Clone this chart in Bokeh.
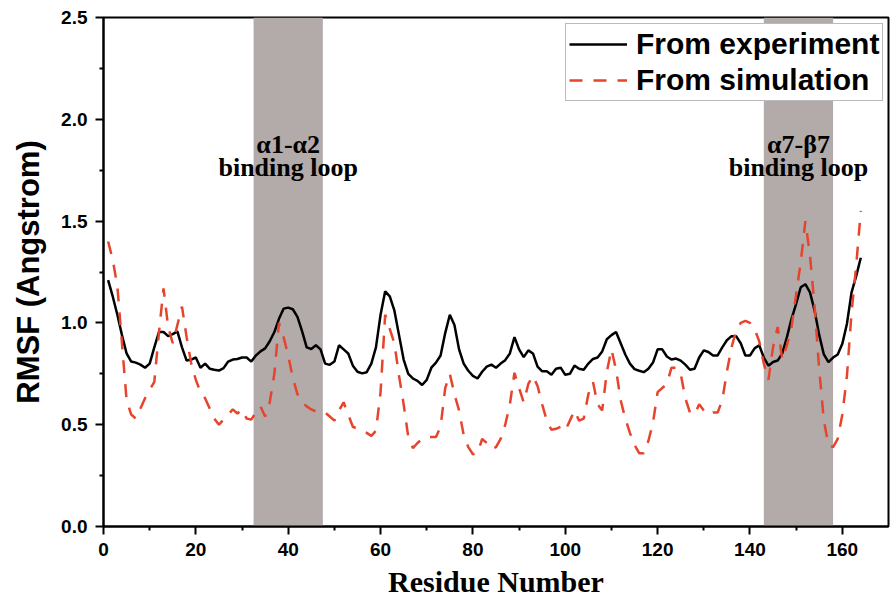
from bokeh.plotting import figure
from bokeh.models import FixedTicker, Legend, LegendItem, PrintfTickFormatter, ColumnDataSource
from bokeh.core.properties import value
from bokeh.embed import file_html
from bokeh.resources import INLINE

# ---------------- data ----------------
residues = list(range(1, 165))

rmsf_experiment = [
    1.21, 1.13, 1.04, 0.94, 0.85, 0.81, 0.805, 0.795, 0.78, 0.80,
    0.88, 0.955, 0.955, 0.935, 0.945, 0.958, 0.88, 0.815, 0.82, 0.83,
    0.78, 0.80, 0.775, 0.77, 0.766, 0.778, 0.81, 0.82, 0.823, 0.83,
    0.83, 0.81, 0.84, 0.86, 0.875, 0.91, 0.955, 1.02, 1.07, 1.075,
    1.067, 1.03, 0.96, 0.88, 0.872, 0.89, 0.87, 0.80, 0.794, 0.81,
    0.89, 0.87, 0.85, 0.79, 0.76, 0.752, 0.758, 0.80, 0.88, 1.04,
    1.155, 1.13, 1.06, 0.94, 0.82, 0.75, 0.727, 0.715, 0.695, 0.72,
    0.78, 0.805, 0.84, 0.95, 1.04, 0.99, 0.87, 0.80, 0.765, 0.74,
    0.727, 0.76, 0.785, 0.795, 0.78, 0.80, 0.817, 0.85, 0.93, 0.87,
    0.832, 0.865, 0.85, 0.785, 0.762, 0.762, 0.745, 0.775, 0.78, 0.745,
    0.75, 0.79, 0.775, 0.77, 0.80, 0.823, 0.83, 0.86, 0.92, 0.94,
    0.955, 0.90, 0.845, 0.80, 0.773, 0.765, 0.758, 0.775, 0.805, 0.87,
    0.87, 0.835, 0.82, 0.825, 0.815, 0.795, 0.77, 0.775, 0.83, 0.865,
    0.857, 0.84, 0.84, 0.88, 0.915, 0.935, 0.935, 0.90, 0.84, 0.84,
    0.875, 0.89, 0.83, 0.79, 0.808, 0.815, 0.85, 0.93, 1.02, 1.094,
    1.175, 1.19, 1.15, 1.06, 0.94, 0.845, 0.807, 0.83, 0.845, 0.897,
    0.996, 1.15, 1.23, 1.32,
]

rmsf_simulation = [
    1.40, 1.31, 1.18, 0.90, 0.62, 0.55, 0.53, 0.58, 0.63, 0.67,
    0.71, 0.95, 1.17, 0.98, 0.90, 0.99, 1.08, 0.93, 0.80, 0.72,
    0.66, 0.63, 0.58, 0.53, 0.50, 0.525, 0.55, 0.575, 0.555, 0.575,
    0.53, 0.525, 0.56, 0.59, 0.54, 0.61, 0.75, 1.00, 0.93, 0.84,
    0.73, 0.65, 0.61, 0.59, 0.575, 0.565, 0.56, 0.56, 0.54, 0.52,
    0.57, 0.61, 0.55, 0.49, 0.48, 0.47, 0.46, 0.445, 0.47, 0.66,
    1.04, 0.97, 0.90, 0.74, 0.60, 0.44, 0.385, 0.41, 0.43, 0.44,
    0.44, 0.44, 0.49, 0.68, 0.75, 0.65, 0.57, 0.45, 0.39, 0.355,
    0.36, 0.43, 0.41, 0.38, 0.39, 0.43, 0.50, 0.60, 0.755, 0.68,
    0.61, 0.70, 0.74, 0.69, 0.60, 0.52, 0.475, 0.48, 0.49, 0.47,
    0.52, 0.57, 0.52, 0.53, 0.65, 0.71, 0.60, 0.57, 0.76, 0.87,
    0.77, 0.62, 0.53, 0.46, 0.40, 0.36, 0.36, 0.42, 0.51, 0.66,
    0.68, 0.70, 0.78, 0.78, 0.75, 0.63, 0.56, 0.55, 0.60, 0.57,
    0.55, 0.56, 0.56, 0.62, 0.76, 0.88, 0.96, 1.00, 1.01, 1.00,
    0.97, 0.91, 0.80, 0.72, 0.88, 0.98, 0.82, 0.89, 0.98, 1.14,
    1.30, 1.50, 1.33, 1.08, 0.77, 0.52, 0.40, 0.39, 0.43, 0.55,
    0.74, 1.05, 1.28, 1.55,
]

band_start = [32.5, 143.0]
band_end = [47.5, 158.0]
band_title = ["α1-α2", "α7-β7"]
band_subtitle = ["binding loop", "binding loop"]

x_major_ticks = [0, 20, 40, 60, 80, 100, 120, 140, 160]
x_minor_ticks = [10, 30, 50, 70, 90, 110, 130, 150]
y_major_ticks = [0.0, 0.5, 1.0, 1.5, 2.0, 2.5]
y_minor_ticks = [0.25, 0.75, 1.25, 1.75, 2.25]

# ---------------- figure ----------------
p = figure(
    width=890, height=603,
    x_range=(0, 170), y_range=(0, 2.5),
    output_backend="svg", toolbar_location=None,
    min_border_left=103, min_border_right=2,
    min_border_top=17, min_border_bottom=77,
    background_fill_color="white",
)
p.xgrid.visible = False
p.ygrid.visible = False
p.outline_line_color = "black"
p.outline_line_width = 2

# shaded binding-loop bands
band_src = ColumnDataSource(dict(
    left=band_start, right=band_end,
    bottom=[0, 0], top=[2.5, 2.5],
    center=[(a + b) / 2 for a, b in zip(band_start, band_end)],
    title=band_title, subtitle=band_subtitle,
    y1=[1.875, 1.875], y2=[1.762, 1.762],
))
p.quad(left="left", right="right", bottom="bottom", top="top",
       source=band_src, fill_color="#b2abaa", line_color=None)

p.text(x="center", y="y1", text="title", source=band_src,
       text_font=value("Liberation Serif"), text_font_style="bold",
       text_font_size="26px", text_align="center",
       text_baseline="alphabetic", text_color="black")
p.text(x="center", y="y2", text="subtitle", source=band_src,
       text_font=value("Liberation Serif"), text_font_style="bold",
       text_font_size="26px", text_align="center",
       text_baseline="alphabetic", text_color="black")

r_exp = p.line(residues, rmsf_experiment, line_color="black", line_width=2.5)
r_sim = p.line(residues, rmsf_simulation, line_color="#e6442d",
               line_width=2.5, line_dash="13 11")

# axes
p.xaxis.ticker = FixedTicker(ticks=x_major_ticks, minor_ticks=x_minor_ticks)
p.yaxis.ticker = FixedTicker(ticks=y_major_ticks, minor_ticks=y_minor_ticks)
p.yaxis.formatter = PrintfTickFormatter(format="%.1f")

for ax in (p.xaxis[0], p.yaxis[0]):
    ax.axis_line_width = 2
    ax.axis_line_color = "black"
    ax.major_tick_line_width = 2
    ax.minor_tick_line_width = 2
    ax.major_tick_line_color = "black"
    ax.minor_tick_line_color = "black"
    ax.major_tick_in = 0
    ax.major_tick_out = 8
    ax.minor_tick_in = 0
    ax.minor_tick_out = 4
    ax.major_label_text_font = "Liberation Sans"
    ax.major_label_text_font_style = "bold"
    ax.major_label_text_font_size = "19px"
    ax.major_label_text_color = "black"
    ax.major_label_standoff = 8

p.xaxis.axis_label = "Residue Number"
p.xaxis.axis_label_text_font = "Liberation Serif"
p.xaxis.axis_label_text_font_style = "bold"
p.xaxis.axis_label_text_font_size = "30px"
p.xaxis.axis_label_text_color = "black"
p.xaxis.axis_label_standoff = 6

p.yaxis.axis_label = "RMSF (Angstrom)"
p.yaxis.axis_label_text_font = "Liberation Sans"
p.yaxis.axis_label_text_font_style = "bold"
p.yaxis.axis_label_text_font_size = "31px"
p.yaxis.axis_label_text_color = "black"
p.yaxis.axis_label_standoff = 12

legend = Legend(
    items=[LegendItem(label="From experiment", renderers=[r_exp]),
           LegendItem(label="From simulation", renderers=[r_sim])],
    location=(462, 425),
    label_text_font="Liberation Sans", label_text_font_style="bold",
    label_text_font_size="30px", label_text_color="black",
    glyph_width=58, glyph_height=34, label_height=34,
    label_standoff=9, spacing=2, padding=3, margin=0,
    border_line_color="#777777", border_line_width=1.5,
    background_fill_color="white", background_fill_alpha=1.0,
)
p.add_layout(legend)

open("out.html", "w").write(file_html(p, INLINE))
